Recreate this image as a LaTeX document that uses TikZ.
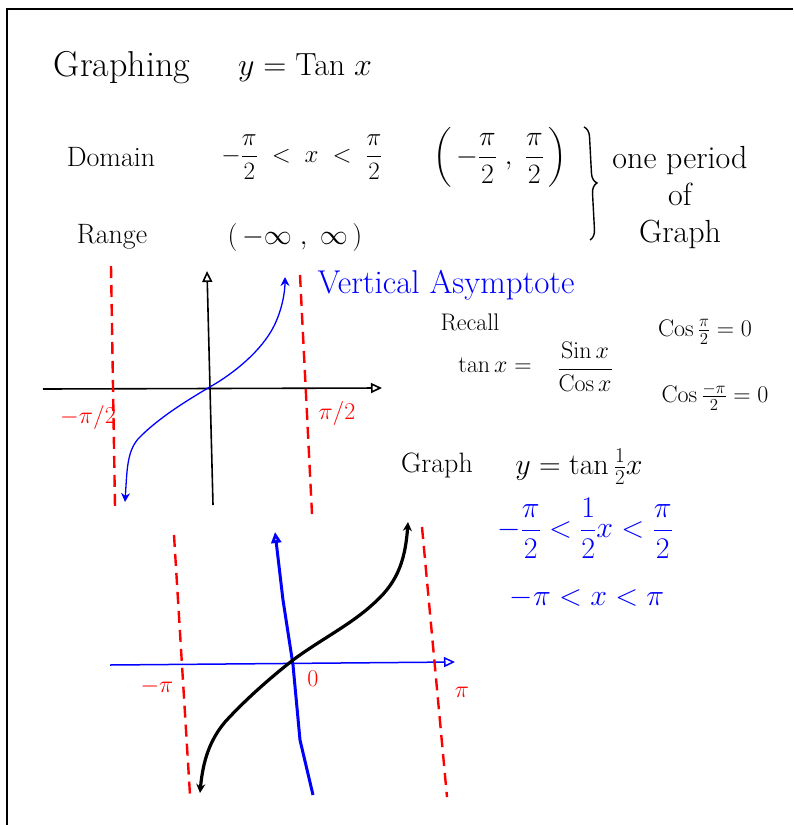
\RequirePackage{fix-cm}
\documentclass[tikz,border=0pt]{standalone}
\usepackage{amsmath}
\usetikzlibrary{arrows.meta,decorations.pathreplacing}
\begin{document}
\begin{tikzpicture}[x=1pt,y=-1pt,
    hand/.style={font=\fontsize{28}{32}\selectfont},
    big/.style={font=\fontsize{36}{40}\selectfont},
    small/.style={font=\fontsize{24}{28}\selectfont},
    asymptote/.style={red,line width=2.4pt,dash pattern=on 12pt off 7pt},
    axisline/.style={line width=1.6pt,-{Triangle[open,length=11pt,width=10pt]}},
    curvetip/.style={{Stealth[length=9pt,width=9pt]}-{Stealth[length=9pt,width=9pt]}}]
    % Frame:
    \useasboundingbox (0,0) rectangle (793,825);
    \draw[line width=2.6pt] (7,825) -- (7,9) -- (793,9);
    % Heading, domain and range:
    \node[big] (head) at (122,68) {Graphing};
    \node[font=\fontsize{32}{36}\selectfont] (headfn) at (305,68) {$y=\mathrm{Tan}\;x$};
    \node[hand] (dom) at (111,157) {Domain};
    \node[font=\fontsize{25}{30}\selectfont] (domineq) at (302,157) {$-\dfrac{\pi}{2}\;<\;x\;<\;\dfrac{\pi}{2}$};
    \node[hand] (domint) at (500,157) {$\left(\,-\dfrac{\pi}{2}\;,\;\dfrac{\pi}{2}\,\right)$};
    \node[hand] (rng) at (112,237) {Range};
    \node[hand] (rngint) at (295,237) {$(\,-\infty\;,\;\infty\,)$};
    \draw[line width=1.4pt,decorate,decoration={brace,amplitude=10pt}] (584,127) -- (590,240);
    \node[font=\fontsize{32}{37}\selectfont,align=center] (period) at (680,198) {one period\\of\\Graph};
    % Graph of y = tan x:
    \coordinate (g1l) at (43,389);
    \coordinate (g1r) at (382,388);
    \coordinate (g1b) at (213,505);
    \coordinate (g1t) at (207,271);
    \draw[axisline] (g1l) -- (g1r);
    \draw[axisline] (g1b) -- (g1t);
    \draw[asymptote] (111,266) -- (115,507);
    \draw[asymptote] (300,275) -- (312,514);
    \node[small,red] (g1neg) at (88,417) {$-\pi/2$};
    \node[small,red] (g1pos) at (337,413) {$\pi/2$};
    \draw[blue,line width=1.3pt,curvetip] (125,502) .. controls (127,470) and (127,452) .. (138,439)
        .. controls (158,418) and (188,400) .. (208,388)
        .. controls (235,373) and (262,350) .. (274,326)
        .. controls (282,310) and (285,292) .. (285,277);
    \node[font=\fontsize{33}{36}\selectfont,blue,anchor=west] (vasym) at (314,285) {Vertical Asymptote};
    % Recall:
    \node[small] (recall) at (470,322) {Recall};
    \node[small] (tanx) at (495,365) {$\tan x =$};
    \node[small] (ratio) at (585,367) {$\dfrac{\mathrm{Sin}\,x}{\mathrm{Cos}\,x}$};
    \node[small] (cospos) at (705,332) {$\mathrm{Cos}\,\tfrac{\pi}{2}=0$};
    \node[small] (cosneg) at (715,397) {$\mathrm{Cos}\,\tfrac{-\pi}{2}=0$};
    % Graph of y = tan x/2:
    \node[hand] (graph) at (437,465) {Graph};
    \node[font=\fontsize{30}{34}\selectfont] (graphfn) at (579,467) {$y=\tan\tfrac{1}{2}x$};
    \node[font=\fontsize{30}{34}\selectfont,blue] (ineqa) at (585,528) {$-\dfrac{\pi}{2} < \dfrac{1}{2}x < \dfrac{\pi}{2}$};
    \node[font=\fontsize{30}{34}\selectfont,blue] (ineqb) at (587,598) {$-\pi < x < \pi$};
    \draw[axisline,blue,line width=1.5pt] (110,665) -- (455,662);
    \draw[blue,line width=3pt,-{Triangle[open,length=11pt,width=10pt]}] (313,795) -- (300,740) -- (293,665) -- (283,600) -- (275,532);
    \draw[asymptote] (174,535) -- (190,795);
    \draw[asymptote] (422,527) -- (447,797);
    \draw[line width=3.2pt,curvetip] (200,793) .. controls (203,760) and (210,740) .. (225,722)
        .. controls (245,700) and (270,678) .. (293,660)
        .. controls (320,640) and (350,625) .. (372,605)
        .. controls (395,585) and (405,565) .. (408,522);
    \node[small,red] (g2neg) at (157,686) {$-\pi$};
    \node[small,red] (g2zero) at (313,679) {0};
    \node[small,red] (g2pos) at (462,692) {$\pi$};
\end{tikzpicture}
\end{document}
